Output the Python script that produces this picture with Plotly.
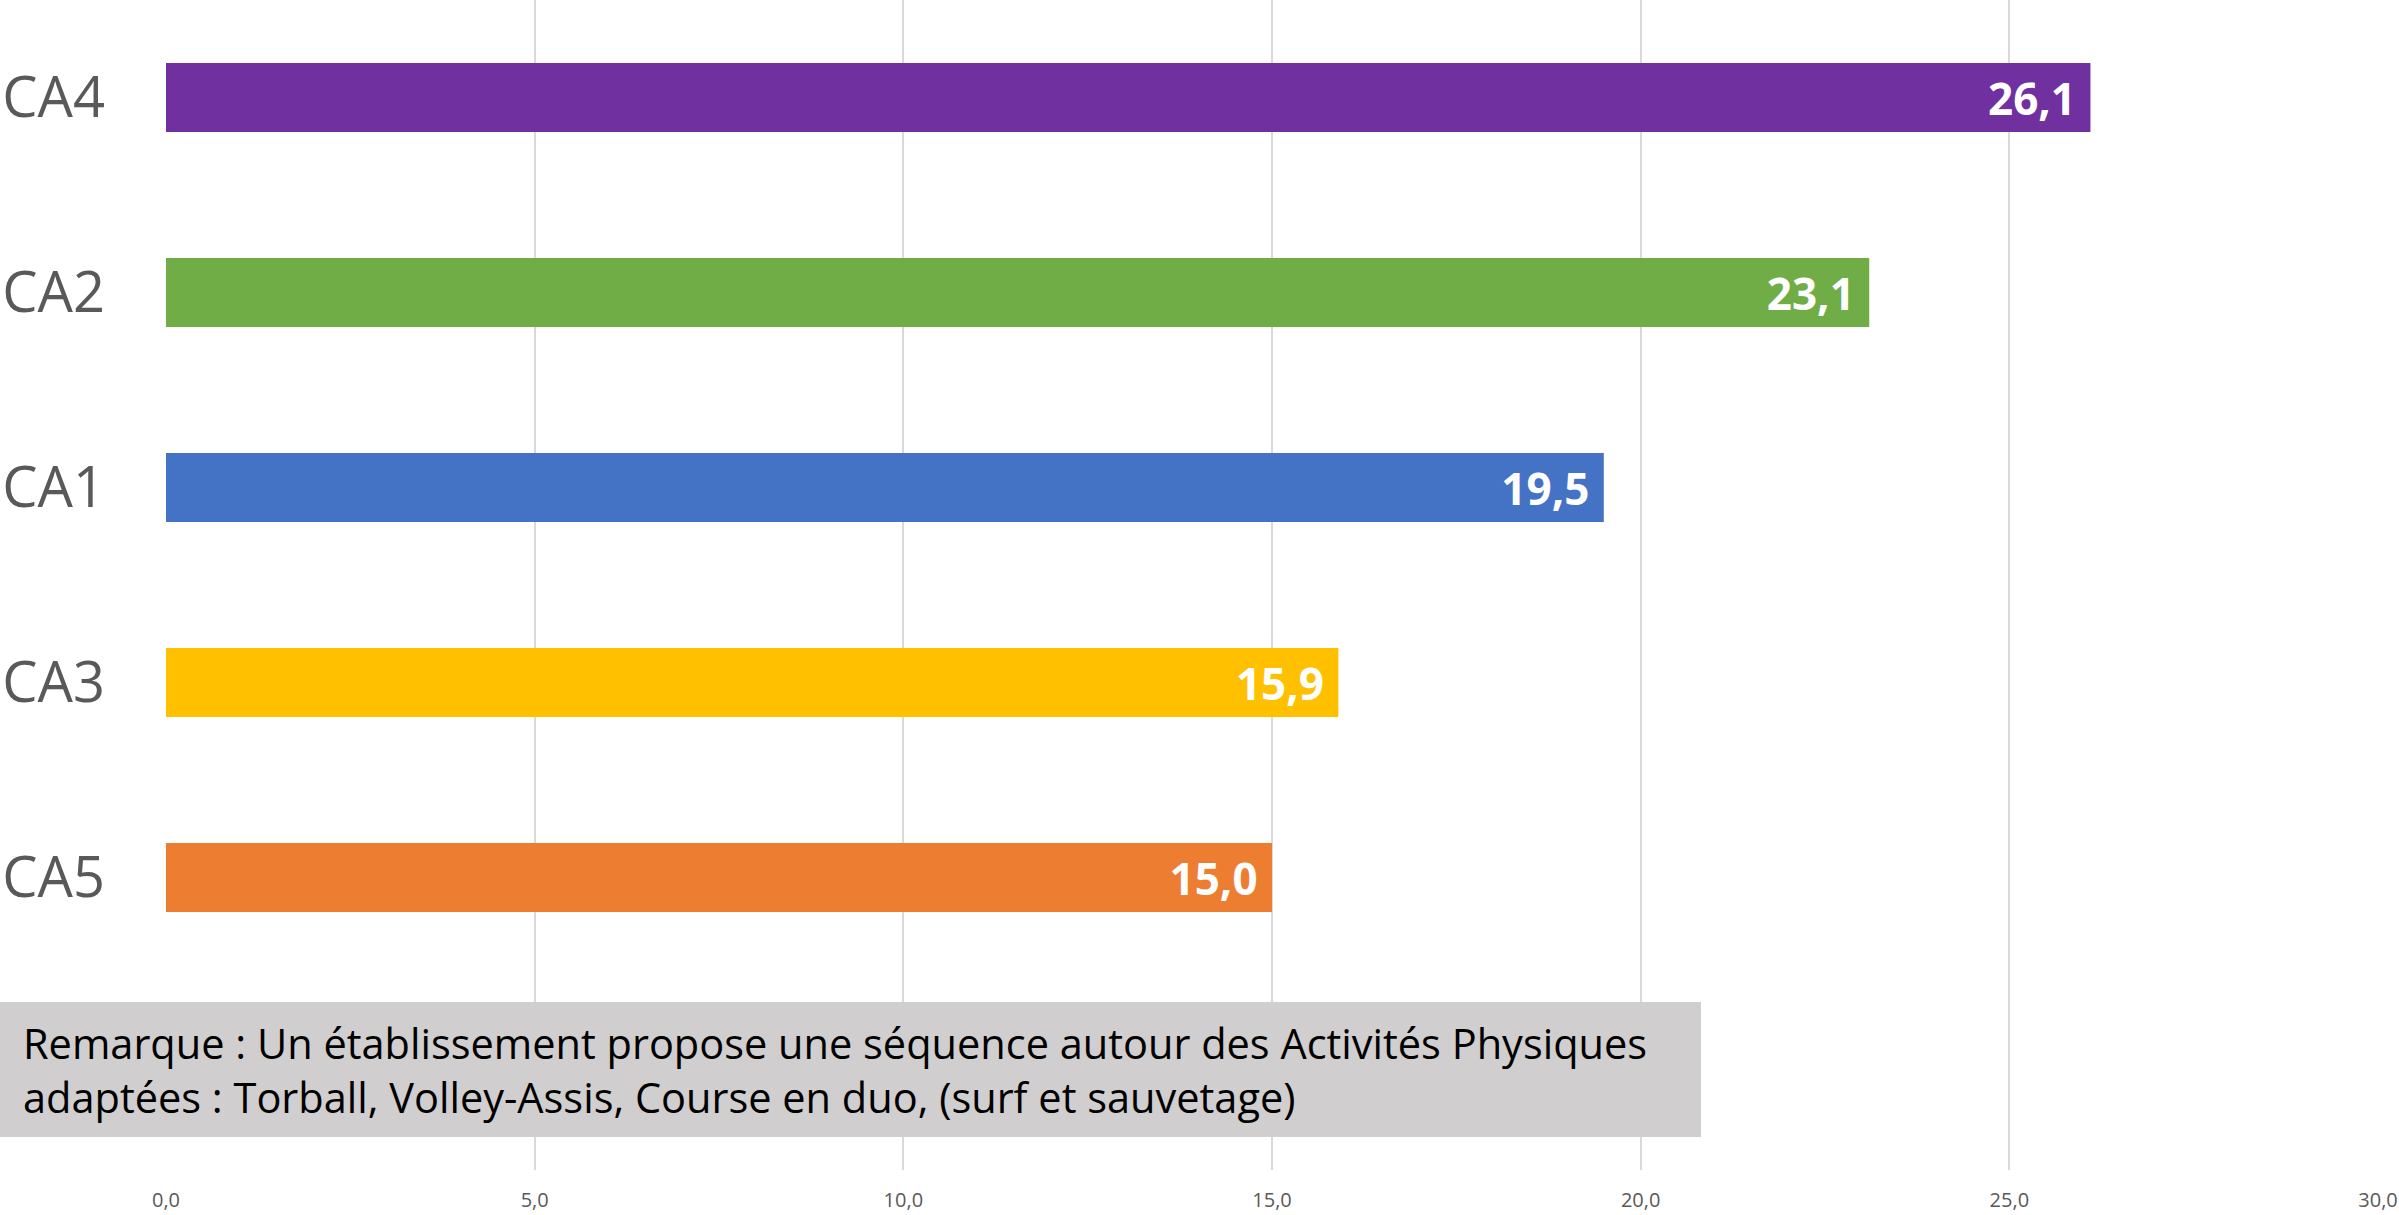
import plotly.graph_objects as go

categories = ["CA5", "CA3", "CA1", "CA2", "CA4"]
values = [15.0, 15.9, 19.5, 23.1, 26.1]
colors = ["#ED7D31", "#FFC000", "#4472C4", "#70AD47", "#7030A0"]
x_ticks = [0, 5, 10, 15, 20, 25, 30]

note = (
    "Remarque : Un établissement propose une séquence autour des Activités Physiques<br>"
    "adaptées : Torball, Volley-Assis, Course en duo, (surf et sauvetage)"
)

# plot area in pixels: 166..2378 horizontally, 0..1170 vertically
plot_w, plot_h, left = 2212, 1170, 166

fig = go.Figure(
    go.Bar(
        x=values,
        y=categories,
        orientation="h",
        marker=dict(color=colors, line=dict(width=0)),
        width=0.355,
        texttemplate="%{x:.1f} ",
        textposition="inside",
        insidetextanchor="end",
        textfont=dict(family="Open Sans", size=44, color="white", weight="bold"),
        hoverinfo="skip",
    )
)

fig.update_layout(
    width=2399,
    height=1215,
    margin=dict(l=left, r=21, t=0, b=45),
    plot_bgcolor="white",
    paper_bgcolor="white",
    separators=", ",
    showlegend=False,
    font=dict(family="Open Sans", color="#595959"),
)

fig.update_xaxes(
    range=[0, 30],
    tickvals=x_ticks,
    tickformat=".1f",
    showgrid=True,
    gridcolor="#D9D9D9",
    gridwidth=2,
    zeroline=False,
    showline=False,
    tickfont=dict(size=20, color="#595959"),
    ticklabelstandoff=16,
)
fig.update_yaxes(
    categoryorder="array",
    categoryarray=categories,
    range=[-1.5, 4.5],
    showgrid=False,
    zeroline=False,
    showline=False,
    tickfont=dict(size=56, color="#595959"),
    ticklabelstandoff=60,
)

# grey note box
fig.add_shape(
    type="rect",
    xref="paper",
    yref="paper",
    x0=-left / plot_w,
    x1=(1701 - left) / plot_w,
    y0=(plot_h - 1137) / plot_h,
    y1=(plot_h - 1002) / plot_h,
    fillcolor="#D0CECE",
    line=dict(width=0),
    layer="above",
)
fig.add_annotation(
    xref="paper",
    yref="paper",
    x=(21 - left) / plot_w,
    y=(plot_h - 1070) / plot_h,
    xanchor="left",
    yanchor="middle",
    text=note,
    align="left",
    showarrow=False,
    font=dict(family="Open Sans", size=41.5, color="black"),
)

fig.write_html(
    "out.html",
    config={"displayModeBar": False},
    post_script="document.body.style.margin='0';",
)
